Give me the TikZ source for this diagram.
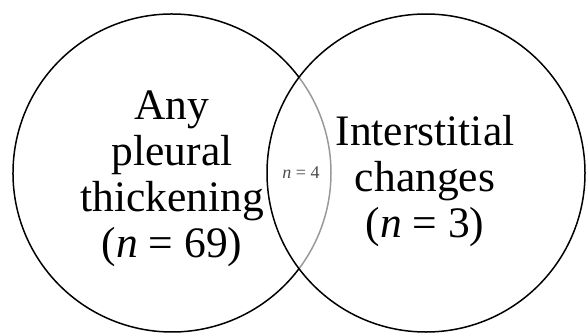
\documentclass[tikz,border=0pt]{standalone}
\usepackage{fontspec}
\setmainfont{Liberation Serif}
\usetikzlibrary{positioning}

\begin{document}
\begin{tikzpicture}[
    x=1pt, y=1pt,
    set line/.style={black, line width=1.5pt},
    overlap line/.style={gray!80, line width=1.5pt},
    set label/.style={align=center, anchor=base, inner sep=0pt,
        font=\fontsize{43.5}{46}\selectfont},
    overlap label/.style={anchor=base, inner sep=0pt, text=black!70,
        font=\fontsize{18}{20}\selectfont}
]
\useasboundingbox (0,0) rectangle (586,333);

% --- 1. Sets ---
\coordinate (pleuraC) at (172,160);
\coordinate (interC) at (426,160);

% left set, its part inside the right set drawn grey
\draw[set line] (pleuraC) ++(37:159) arc[start angle=37, end angle=323, radius=159];
\draw[overlap line] (pleuraC) ++(-37:159) arc[start angle=-37, end angle=37, radius=159];

% right set
\draw[set line] (interC) circle[radius=159];

% --- 2. Labels ---
\node[set label] (pleuraText) at (172,76) {Any\\pleural\\thickening\\(\textit{n} = 69)};
\node[set label] (interText) at (425,96) {Interstitial\\changes\\(\textit{n} = 3)};
\node[overlap label] (bothText) at (301,155) {\textit{n} = 4};

\end{tikzpicture}
\end{document}
